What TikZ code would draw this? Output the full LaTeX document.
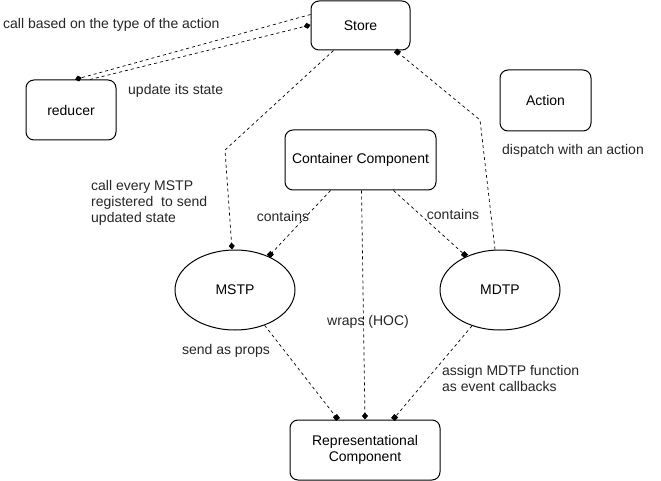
\documentclass[tikz,border=0pt]{standalone}
\usepackage{fontspec}
\setmainfont{Liberation Sans}
\usetikzlibrary{arrows.meta,shapes.geometric}
\tikzset{
  box/.style={draw, rounded corners=8pt, line width=1pt, inner sep=0pt, align=center},
  oval/.style={draw, ellipse, line width=1pt, inner sep=0pt, minimum width=120pt, minimum height=80pt},
  link/.style={line width=0.7pt, dash pattern=on 3pt off 3pt},
  dia/.style={-{Diamond[length=7pt,width=6pt]}},
  sqr/.style={-{Square[length=5pt,width=5pt]}},
  lbl/.style={inner sep=0pt, align=left, text=black!85},
}
\begin{document}
\begin{tikzpicture}[x=1pt, y=-1pt, font=\fontsize{14}{16}\selectfont]
\useasboundingbox[fill=white] (0,0) rectangle (661,481);
% shapes
\node[box, minimum width=99pt, minimum height=49pt] (store) at (360.5,25.5) {Store};
\node[box, minimum width=90pt, minimum height=60pt] (reducer) at (71,110) {reducer};
\node[box, minimum width=151pt, minimum height=60pt] (container) at (360.5,160) {Container Component};
\node[box, minimum width=91pt, minimum height=61pt] (action) at (545.5,100.5) {Action};
\node[oval] (mstp) at (235,290) {MSTP};
\node[oval] (mdtp) at (500,290) {MDTP};
\node[box, minimum width=150pt, minimum height=60pt] (repr) at (365,450) {Representational\\Component};
\coordinate (bendl) at (225,150);
\coordinate (bendr) at (480,120);
% connectors
\draw[link, dia] ([yshift=11pt]store.west) -- ([xshift=4pt]reducer.north);
\draw[link, dia] ([xshift=19pt]reducer.north) -- ([yshift=0.5pt]store.west);
\draw[link, dia] ([xshift=-27pt]store.south) -- (bendl) -- ([xshift=-3pt]mstp.north);
\draw[link, sqr] ([xshift=-5pt]mdtp.north) -- (bendr) -- ([xshift=35pt]store.south);
\draw[link, sqr] ([xshift=-30pt]container.south) -- (mstp.45);
\draw[link, sqr] ([xshift=33pt]container.south) -- (mdtp.135);
\draw[link, dia] ([xshift=1pt]container.south) -- ([xshift=0pt]repr.north);
\draw[link, sqr] (mstp.310) -- ([xshift=-27pt]repr.north);
\draw[link, sqr] (mdtp.232) -- ([xshift=28pt]repr.north);
% labels
\node[lbl, anchor=west] (lcall) at (3,25) {call based on the type of the action};
\node[lbl, anchor=west] (lupd) at (128,91) {update its state};
\node[lbl, anchor=west] (ldisp) at (502,151) {dispatch with an action};
\node[lbl, anchor=west] (lreg) at (91,203) {call every MSTP\\registered\ \ to send\\updated state};
\node[lbl] (lcont1) at (283,216) {contains};
\node[lbl] (lcont2) at (453,214) {contains};
\node[lbl] (lwrap) at (368,322) {wraps (HOC)};
\node[lbl] (lprops) at (226,351) {send as props};
\node[lbl, anchor=west] (lassign) at (442,378) {assign MDTP function\\as event callbacks};
\end{tikzpicture}
\end{document}
